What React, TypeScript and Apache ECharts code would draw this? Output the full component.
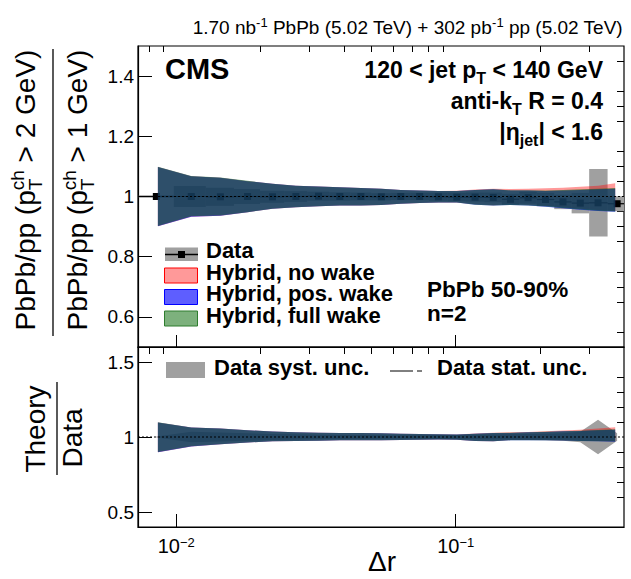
import React, { useEffect, useRef } from "react";
import * as echarts from "echarts";

// ---------------- data ----------------
const DR = [0.00849, 0.01132, 0.01439, 0.018, 0.0221, 0.0268, 0.0323, 0.0385, 0.0458, 0.0542, 0.0636, 0.0743, 0.0867, 0.1009, 0.1173, 0.1362, 0.157, 0.1815, 0.2095, 0.242, 0.279, 0.323, 0.378];
const DATA_RATIO = [1.0, 1.0, 0.999, 1.0, 0.999, 1.0, 1.001, 1.0, 1.0, 0.999, 1.0, 1.0, 0.999, 0.998, 0.998, 0.997, 0.991, 0.996, 0.99, 0.982, 0.978, 0.979, 0.976];
const DATA_SYST = [0.004, 0.035, 0.03, 0.025, 0.02, 0.018, 0.015, 0.014, 0.013, 0.012, 0.012, 0.012, 0.013, 0.014, 0.015, 0.016, 0.018, 0.02, 0.022, 0.024, 0.034, 0.112, 0.025];

const BAND_X = [0.0086, 0.01132, 0.01439, 0.018, 0.0221, 0.0268, 0.0323, 0.0385, 0.0458, 0.0542, 0.0636, 0.0743, 0.0867, 0.1009, 0.1173, 0.1362, 0.157, 0.1815, 0.2095, 0.242, 0.279, 0.323, 0.372];

const NO_WAKE_UP = [1.098, 1.067, 1.062, 1.051, 1.042, 1.036, 1.033, 1.031, 1.028, 1.026, 1.022, 1.02, 1.018, 1.019, 1.023, 1.026, 1.025, 1.026, 1.027, 1.029, 1.032, 1.036, 1.044];
const NO_WAKE_LO = [0.901, 0.933, 0.936, 0.948, 0.959, 0.964, 0.968, 0.97, 0.97, 0.972, 0.976, 0.978, 0.98, 0.98, 0.974, 0.971, 0.974, 0.972, 0.969, 0.964, 0.959, 0.955, 0.952];
const POS_WAKE_UP = [1.098, 1.067, 1.062, 1.051, 1.042, 1.036, 1.033, 1.031, 1.028, 1.026, 1.022, 1.02, 1.018, 1.018, 1.022, 1.024, 1.02, 1.02, 1.018, 1.02, 1.022, 1.024, 1.026];
const POS_WAKE_LO = [0.901, 0.933, 0.936, 0.948, 0.959, 0.964, 0.968, 0.97, 0.97, 0.972, 0.976, 0.978, 0.98, 0.98, 0.973, 0.97, 0.972, 0.97, 0.966, 0.961, 0.956, 0.952, 0.949];
const FULL_WAKE_UP = [1.099, 1.068, 1.063, 1.052, 1.042, 1.036, 1.033, 1.031, 1.028, 1.026, 1.022, 1.02, 1.018, 1.018, 1.022, 1.024, 1.021, 1.021, 1.02, 1.022, 1.024, 1.026, 1.028];
const FULL_WAKE_LO = [0.902, 0.934, 0.937, 0.948, 0.959, 0.964, 0.968, 0.97, 0.97, 0.972, 0.976, 0.978, 0.98, 0.98, 0.973, 0.97, 0.972, 0.97, 0.967, 0.962, 0.957, 0.953, 0.95];

const NO_WAKE_R_UP = [1.097, 1.063, 1.056, 1.045, 1.036, 1.031, 1.029, 1.027, 1.027, 1.025, 1.022, 1.02, 1.018, 1.017, 1.023, 1.028, 1.031, 1.034, 1.038, 1.043, 1.049, 1.057, 1.065];
const NO_WAKE_R_LO = [0.899, 0.937, 0.951, 0.964, 0.971, 0.973, 0.975, 0.978, 0.978, 0.978, 0.98, 0.982, 0.984, 0.982, 0.974, 0.972, 0.98, 0.98, 0.98, 0.978, 0.976, 0.974, 0.972];
const POS_WAKE_R_UP = [1.097, 1.063, 1.056, 1.045, 1.036, 1.031, 1.029, 1.027, 1.027, 1.025, 1.022, 1.02, 1.018, 1.016, 1.022, 1.027, 1.027, 1.031, 1.034, 1.038, 1.04, 1.045, 1.049];
const POS_WAKE_R_LO = [0.899, 0.937, 0.951, 0.964, 0.971, 0.973, 0.975, 0.978, 0.978, 0.978, 0.98, 0.982, 0.984, 0.982, 0.973, 0.971, 0.978, 0.978, 0.978, 0.976, 0.973, 0.971, 0.969];
const FULL_WAKE_R_UP = [1.098, 1.064, 1.057, 1.045, 1.036, 1.031, 1.029, 1.027, 1.027, 1.025, 1.022, 1.02, 1.018, 1.016, 1.022, 1.027, 1.028, 1.032, 1.035, 1.039, 1.042, 1.047, 1.051];
const FULL_WAKE_R_LO = [0.9, 0.938, 0.951, 0.964, 0.971, 0.973, 0.975, 0.978, 0.978, 0.978, 0.98, 0.982, 0.984, 0.982, 0.973, 0.971, 0.978, 0.978, 0.978, 0.976, 0.974, 0.972, 0.97];

const X_RANGE = [0.0073, 0.4];
const X_MAJOR = [0.01, 0.1];
const X_MINOR = [0.008, 0.009, 0.02, 0.03, 0.04, 0.05, 0.06, 0.07, 0.08, 0.09, 0.2, 0.3];
const Y_TOP_RANGE = [0.5, 1.5];
const Y_TOP_MAJOR = [0.6, 0.8, 1, 1.2, 1.4];
const Y_TOP_MINOR = [0.55, 0.65, 0.7, 0.75, 0.85, 0.9, 0.95, 1.05, 1.1, 1.15, 1.25, 1.3, 1.35, 1.45];
const Y_BOT_RANGE = [0.4, 1.6];
const Y_BOT_MAJOR = [0.5, 1, 1.5];
const Y_BOT_MINOR = [0.6, 0.7, 0.8, 0.9, 1.1, 1.2, 1.3, 1.4];

// ---------------- styles ----------------
const FONT = '"Liberation Sans", Arial, Helvetica, sans-serif';
const CENTRAL = 0.3465;
const C_NO = "rgba(255,0,0,0.4)";
const C_POS = "rgba(0,0,255,0.63)";
const C_FULL = "rgba(0,102,0,0.51)";
const C_SYST = "#a0a0a0";

type Tok = { t: string; s: number; dy?: number; sub?: { t: string; s: number; dy: number } };

let measureCtx: CanvasRenderingContext2D | null = null;
function textWidth(t: string, s: number, bold: boolean) {
  if (!measureCtx) measureCtx = document.createElement("canvas").getContext("2d");
  measureCtx!.font = `${bold ? "bold " : ""}${s}px ${FONT}`;
  return measureCtx!.measureText(t).width;
}
function txt(t: string, x: number, baseline: number, s: number, bold: boolean, lh?: number) {
  const style: any = {
    text: t, fontSize: s, fontFamily: FONT, fontWeight: bold ? "bold" : "normal", fill: "#000",
    align: "left", verticalAlign: "middle", textAlign: "left", textVerticalAlign: "middle",
  };
  if (lh) style.lineHeight = lh;
  return { type: "text", x, y: baseline - CENTRAL * s, silent: true, style };
}
function layoutLine(toks: Tok[], bold: boolean, lh?: number) {
  let x = 0;
  const els: any[] = [];
  for (const k of toks) {
    let w = textWidth(k.t, k.s, bold);
    els.push(txt(k.t, x, k.dy || 0, k.s, bold, lh));
    if (k.sub) {
      els.push(txt(k.sub.t, x, k.sub.dy, k.sub.s, bold, lh));
      w = Math.max(w, textWidth(k.sub.t, k.sub.s, bold));
    }
    x += w;
  }
  return { els, w: x };
}
function textBlock(toks: Tok[], bold: boolean, ax: number, baseline: number, align: "left" | "right" | "center", lh?: number) {
  const { els, w } = layoutLine(toks, bold, lh);
  const x0 = align === "left" ? ax : align === "right" ? ax - w : ax - w / 2;
  return { type: "group", x: x0, y: baseline, children: els };
}
function rotatedBlock(toks: Tok[], bold: boolean, baselineX: number, centerY: number) {
  const { els, w } = layoutLine(toks, bold);
  return {
    type: "group", x: baselineX, y: centerY, rotation: Math.PI / 2,
    children: els.map((e) => ({ ...e, x: e.x - w / 2 })),
  };
}
function line(x1: number, y1: number, x2: number, y2: number, w = 1) {
  return { type: "line", silent: true, shape: { x1, y1, x2, y2 }, style: { stroke: "#000", lineWidth: w } };
}
function rect(x: number, y: number, w: number, h: number, fill: string, stroke?: string) {
  return { type: "rect", silent: true, shape: { x, y, width: w, height: h }, style: { fill, stroke: stroke || null, lineWidth: stroke ? 1 : 0 } };
}

function bandSeries(grid: number, xs: number[], up: number[], lo: number[], color: string) {
  return {
    type: "custom",
    xAxisIndex: grid * 2,
    yAxisIndex: grid * 2,
    clip: true,
    silent: true,
    data: xs.map((x, i) => [x, up[i], lo[i]]),
    renderItem: (params: any, api: any) => {
      if (params.dataIndex !== 0) return null;
      const top = xs.map((x, i) => api.coord([x, up[i]]));
      const bot = xs.map((x, i) => api.coord([x, lo[i]])).reverse();
      return { type: "polygon", shape: { points: top.concat(bot) }, style: { fill: color } };
    },
  };
}

function xAxes(grid: number, majorLen: number, minorLen: number, labels: boolean) {
  const base = { type: "log", logBase: 10, gridIndex: grid, min: X_RANGE[0], max: X_RANGE[1], splitLine: { show: false } };
  return [
    {
      ...base,
      axisLine: { show: true, lineStyle: { color: "#000", width: 1.2 } },
      axisTick: { show: true, inside: true, length: majorLen, customValues: X_MAJOR, lineStyle: { color: "#000", width: 1 } },
      axisLabel: labels
        ? {
            show: true, customValues: X_MAJOR, margin: 9,
            formatter: (v: number) => `{b|10}{s|\u2212${Math.round(-Math.log10(v))}}`,
            rich: {
              b: { fontSize: 20, fontFamily: FONT, color: "#000" },
              s: { fontSize: 13, fontFamily: FONT, color: "#000", verticalAlign: "top" },
            },
          }
        : { show: false },
    },
    {
      ...base,
      axisLine: { show: false },
      axisTick: { show: true, inside: true, length: minorLen, customValues: X_MINOR, lineStyle: { color: "#000", width: 1 } },
      axisLabel: { show: false },
    },
  ];
}
function yAxes(grid: number, range: number[], major: number[], minor: number[]) {
  const base = { type: "value", gridIndex: grid, min: range[0], max: range[1], splitLine: { show: false } };
  return [
    {
      ...base,
      axisLine: { show: true, lineStyle: { color: "#000", width: 1.2 } },
      axisTick: { show: true, inside: true, length: 14, customValues: major, lineStyle: { color: "#000", width: 1 } },
      axisLabel: {
        show: true, customValues: major, margin: 4, fontSize: 19, fontFamily: FONT, color: "#000",
        formatter: (v: number) => (v === 1 ? "1" : String(v)),
      },
    },
    {
      ...base,
      axisLine: { show: false },
      axisTick: { show: true, inside: true, length: 7, customValues: minor, lineStyle: { color: "#000", width: 1 } },
      axisLabel: { show: false },
    },
  ];
}

function buildOption() {
  const n = DR.length;
  const systBoxes = {
    type: "custom", xAxisIndex: 0, yAxisIndex: 0, clip: true, silent: true,
    data: DR.map((x, i) => [x, DATA_RATIO[i], DATA_SYST[i]]),
    renderItem: (params: any, api: any) => {
      const i = params.dataIndex;
      const c = api.coord([DR[i], DATA_RATIO[i]]);
      const prev = i > 0 ? api.coord([DR[i - 1], 1])[0] : null;
      const next = i < n - 1 ? api.coord([DR[i + 1], 1])[0] : null;
      const hl = prev !== null ? (c[0] - prev) / 2 : (next - c[0]) / 2;
      const hr = next !== null ? (next - c[0]) / 2 : (c[0] - prev) / 2;
      const yt = api.coord([DR[i], DATA_RATIO[i] + DATA_SYST[i]])[1];
      const yb = api.coord([DR[i], DATA_RATIO[i] - DATA_SYST[i]])[1];
      return { type: "rect", shape: { x: c[0] - hl, y: yt, width: hl + hr, height: yb - yt }, style: { fill: C_SYST } };
    },
  };
  const dataPts = {
    type: "custom", xAxisIndex: 0, yAxisIndex: 0, clip: true, silent: true,
    data: DR.map((x, i) => [x, DATA_RATIO[i]]),
    renderItem: (params: any, api: any) => {
      const i = params.dataIndex;
      const c = api.coord([DR[i], DATA_RATIO[i]]);
      const prev = i > 0 ? api.coord([DR[i - 1], 1])[0] : null;
      const next = i < n - 1 ? api.coord([DR[i + 1], 1])[0] : null;
      const hl = prev !== null ? (c[0] - prev) / 2 : (next - c[0]) / 2;
      const hr = next !== null ? (next - c[0]) / 2 : (c[0] - prev) / 2;
      return {
        type: "group",
        children: [
          { type: "line", shape: { x1: c[0] - hl, y1: c[1], x2: c[0] + hr, y2: c[1] }, style: { stroke: "#000", lineWidth: 1.2 } },
          { type: "rect", shape: { x: c[0] - 3.5, y: c[1] - 3.5, width: 7, height: 7 }, style: { fill: "#000" } },
        ],
      };
    },
  };
  const systRatio = bandSeries(
    1, DR,
    DR.map((_, i) => 1 + DATA_SYST[i] / DATA_RATIO[i]),
    DR.map((_, i) => 1 - DATA_SYST[i] / DATA_RATIO[i]),
    C_SYST
  );
  const unity = (grid: number) => ({
    type: "line", xAxisIndex: grid * 2, yAxisIndex: grid * 2, silent: true, showSymbol: false, symbol: "none",
    data: [[X_RANGE[0], 1], [X_RANGE[1], 1]],
    lineStyle: { color: "#000", width: 1, type: [2, 2] }, z: 5,
  });

  const legendRows = [
    { label: "Hybrid, no wake", fill: C_NO, stroke: "#ff0000", y: 268, base: 280 },
    { label: "Hybrid, pos. wake", fill: C_POS, stroke: "#0000ff", y: 289.5, base: 301.5 },
    { label: "Hybrid, full wake", fill: C_FULL, stroke: "#2e7d2e", y: 311, base: 323 },
  ];
  const LS = 22;
  const LH = 18;

  const graphics: any[] = [
    // header
    textBlock(
      [
        { t: "1.70 nb", s: 19 }, { t: "-1", s: 13, dy: -7 },
        { t: " PbPb (5.02 TeV) + 302 pb", s: 19 }, { t: "-1", s: 13, dy: -7 },
        { t: " pp (5.02 TeV)", s: 19 },
      ], false, 623, 34, "right"
    ),
    textBlock([{ t: "CMS", s: 29 }], true, 165, 79, "left"),
    textBlock([{ t: "120 < jet p", s: 23 }, { t: "T", s: 16, dy: 6 }, { t: " < 140 GeV", s: 23 }], true, 603, 78, "right"),
    textBlock([{ t: "anti-k", s: 23 }, { t: "T", s: 16, dy: 6 }, { t: " R = 0.4", s: 23 }], true, 603, 109, "right"),
    textBlock([{ t: "|\u03b7", s: 23 }, { t: "jet", s: 16, dy: 6 }, { t: "| < 1.6", s: 23 }], true, 603, 140, "right"),
    // legend top
    rect(165, 247.5, 33, 13.5, C_SYST),
    line(165, 254.5, 198, 254.5, 1.5),
    rect(178, 251, 7, 7, "#000"),
    textBlock([{ t: "Data", s: LS }], true, 206, 258.5, "left", LH),
    ...legendRows.flatMap((r) => [
      rect(164.5, r.y, 33, 15, r.fill, r.stroke),
      textBlock([{ t: r.label, s: LS }], true, 206, r.base, "left", LH),
    ]),
    textBlock([{ t: "PbPb 50-90%", s: 22.5 }], true, 427, 297, "left"),
    textBlock([{ t: "n=2", s: 22.5 }], true, 427, 321, "left"),
    // legend bottom
    rect(166, 362, 39, 16, C_SYST),
    textBlock([{ t: "Data syst. unc.", s: 22 }], true, 214, 375, "left"),
    line(390, 371, 413, 371, 1),
    line(417, 371, 422, 371, 1),
    textBlock([{ t: "Data stat. unc.", s: 22 }], true, 437, 375, "left"),
    // y titles
    rotatedBlock(
      [{ t: "PbPb/pp (p", s: 28 }, { t: "ch", s: 19, dy: -11, sub: { t: "T", s: 19, dy: 7 } }, { t: " > 2 GeV)", s: 28 }],
      false, 35, 190
    ),
    line(53, 49, 53, 336, 1.3),
    rotatedBlock(
      [{ t: "PbPb/pp (p", s: 28 }, { t: "ch", s: 19, dy: -11, sub: { t: "T", s: 19, dy: 7 } }, { t: " > 1 GeV)", s: 28 }],
      false, 87, 190
    ),
    rotatedBlock([{ t: "Theory", s: 28 }], false, 45, 429),
    line(57, 382, 57, 475, 1.3),
    rotatedBlock([{ t: "Data", s: 28 }], false, 82, 438),
    // x title
    textBlock([{ t: "\u0394r", s: 28 }], false, 382, 571, "center"),
  ];

  return {
    animation: false,
    backgroundColor: "#fff",
    grid: [
      { left: 138, top: 46, width: 486, height: 301, show: true, borderColor: "#000", borderWidth: 1.2, backgroundColor: "transparent" },
      { left: 138, top: 347, width: 486, height: 180, show: true, borderColor: "#000", borderWidth: 1.2, backgroundColor: "transparent" },
    ],
    xAxis: [...xAxes(0, 12, 6, false), ...xAxes(1, 13, 7, true)],
    yAxis: [...yAxes(0, Y_TOP_RANGE, Y_TOP_MAJOR, Y_TOP_MINOR), ...yAxes(1, Y_BOT_RANGE, Y_BOT_MAJOR, Y_BOT_MINOR)],
    series: [
      systBoxes,
      dataPts,
      bandSeries(0, BAND_X, NO_WAKE_UP, NO_WAKE_LO, C_NO),
      bandSeries(0, BAND_X, POS_WAKE_UP, POS_WAKE_LO, C_POS),
      bandSeries(0, BAND_X, FULL_WAKE_UP, FULL_WAKE_LO, C_FULL),
      unity(0),
      systRatio,
      bandSeries(1, BAND_X, NO_WAKE_R_UP, NO_WAKE_R_LO, C_NO),
      bandSeries(1, BAND_X, POS_WAKE_R_UP, POS_WAKE_R_LO, C_POS),
      bandSeries(1, BAND_X, FULL_WAKE_R_UP, FULL_WAKE_R_LO, C_FULL),
      unity(1),
    ],
    graphic: { elements: graphics },
  };
}

export default function App() {
  const ref = useRef<HTMLDivElement>(null);
  useEffect(() => {
    if (!ref.current) return;
    const chart = echarts.init(ref.current, undefined, { renderer: "svg" });
    chart.setOption(buildOption() as any);
    return () => chart.dispose();
  }, []);
  return (
    <div
      ref={ref}
      style={{ position: "absolute", left: 0, top: 0, width: 631, height: 579, background: "#fff" }}
    />
  );
}
